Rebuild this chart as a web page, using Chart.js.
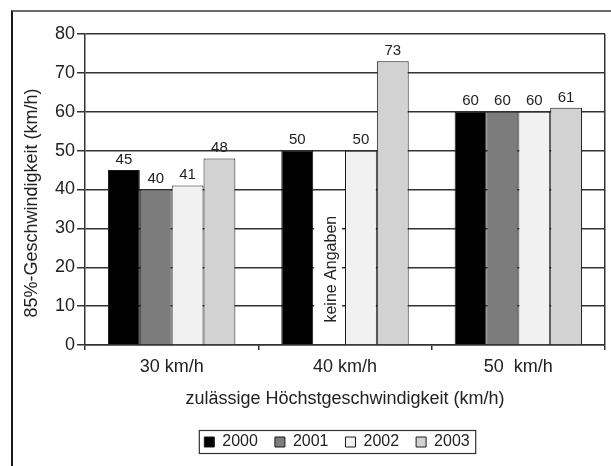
<!DOCTYPE html>
<html>
<head>
<meta charset="utf-8">
<script src="https://cdn.jsdelivr.net/npm/chart.js@4.4.1/dist/chart.umd.min.js"></script>
<style>
  html, body { margin: 0; padding: 0; background: #fff; }
  #wrap { position: relative; width: 611px; height: 466px; overflow: hidden; }
  #frame { position: absolute; left: 11px; top: 10px; width: 640px; height: 500px;
           border-left: 2px solid #1a1a1a; border-top: 2px solid #6a6a6a; }
  canvas { position: absolute; left: 0; top: 0; }
</style>
</head>
<body>
<div id="wrap">
  <div id="frame"></div>
  <canvas id="chart" width="611" height="466"></canvas>
</div>
<script>
// data
const categories = ['30 km/h', '40 km/h', '50  km/h'];
const years = ['2000', '2001', '2002', '2003'];
const values2000 = [45, 50, 60];
const values2001 = [40, null, 60];   // 40 km/h: keine Angaben
const values2002 = [41, 50, 60];
const values2003 = [48, 73, 61];
const yTickValues = [0, 10, 20, 30, 40, 50, 60, 70, 80];
const yTitle = '85%-Geschwindigkeit (km/h)';
const xTitle = 'zulässige Höchstgeschwindigkeit (km/h)';
const noteText = 'keine Angaben';

const FONT = '"Liberation Sans", Arial, sans-serif';
const INK = '#222';
const GRID = '#333';

const barColors = ['#000000', '#7c7c7c', '#f1f1f1', '#d2d2d2'];
const series = [values2000, values2001, values2002, values2003];

// white patch + "keine Angaben" in the empty 2001 slot, drawn over the grid
const noteLabel = {
  id: 'noteLabel',
  beforeDatasetsDraw(chart) {
    const el = chart.getDatasetMeta(1).data[1];
    const y = chart.scales.y;
    const ctx = chart.ctx;
    ctx.save();
    ctx.fillStyle = '#fff';
    const top = y.getPixelForValue(34), bot = y.getPixelForValue(1.5);
    ctx.fillRect(el.x - el.width / 2 + 1, top, el.width - 4, bot - top);
    ctx.translate(el.x + 3, y.getPixelForValue(19.5));
    ctx.rotate(-Math.PI / 2);
    ctx.font = '16px ' + FONT;
    ctx.fillStyle = INK;
    ctx.textAlign = 'center';
    ctx.textBaseline = 'middle';
    ctx.fillText(noteText, 0, 0);
    ctx.restore();
  }
};

// value labels above bars
const valueLabels = {
  id: 'valueLabels',
  afterDatasetsDraw(chart) {
    const ctx = chart.ctx;
    ctx.save();
    ctx.font = '15px ' + FONT;
    ctx.fillStyle = INK;
    ctx.textAlign = 'center';
    ctx.textBaseline = 'bottom';
    chart.data.datasets.forEach((ds, di) => {
      chart.getDatasetMeta(di).data.forEach((el, i) => {
        const v = ds.data[i];
        if (v === null) return;
        ctx.fillText(String(v), el.x, el.y - 3);
      });
    });
    ctx.restore();
  }
};

// y axis title, placed like the original
const yAxisTitle = {
  id: 'yAxisTitle',
  afterDraw(chart) {
    const ctx = chart.ctx;
    ctx.save();
    ctx.translate(32, 203);
    ctx.rotate(-Math.PI / 2);
    ctx.font = '18px ' + FONT;
    ctx.fillStyle = INK;
    ctx.textAlign = 'center';
    ctx.textBaseline = 'middle';
    ctx.fillText(yTitle, 0, 0);
    ctx.restore();
  }
};

// nudge the legend a bit left and put a box round it
const LEGEND_SHIFT = -8;
const legendBox = {
  id: 'legendBox',
  beforeDraw(chart) {
    const lg = chart.legend;
    if (!lg) return;
    lg.left += LEGEND_SHIFT;
    lg.right += LEGEND_SHIFT;
    lg.legendHitBoxes.forEach(h => { h.left += LEGEND_SHIFT; });
  },
  afterDraw(chart) {
    const lg = chart.legend;
    if (!lg || !lg.legendHitBoxes.length) return;
    const hb = lg.legendHitBoxes;
    const first = hb[0], last = hb[hb.length - 1];
    const x0 = first.left - 5, x1 = last.left + last.width + 6;
    const y0 = first.top - 3.5, y1 = first.top + first.height + 3.5;
    const ctx = chart.ctx;
    ctx.save();
    ctx.strokeStyle = '#333';
    ctx.lineWidth = 1.2;
    ctx.strokeRect(x0, y0, x1 - x0, y1 - y0);
    ctx.restore();
  }
};

new Chart(document.getElementById('chart'), {
  type: 'bar',
  data: {
    labels: categories,
    datasets: years.map((yr, k) => ({
      label: yr,
      data: series[k],
      backgroundColor: barColors[k],
      borderColor: '#1a1a1a',
      borderWidth: 1,
      categoryPercentage: 0.735,
      barPercentage: 1
    }))
  },
  options: {
    responsive: false,
    animation: false,
    events: [],
    layout: { padding: { left: 12, right: 6, top: 34, bottom: 6 } },
    plugins: {
      tooltip: { enabled: false },
      legend: {
        position: 'bottom',
        fullSize: false,
        labels: {
          boxWidth: 10,
          boxHeight: 10,
          padding: 17,
          color: INK,
          font: { family: FONT, size: 16 }
        }
      }
    },
    scales: {
      x: {
        afterFit: s => { s.height = 72; },
        grid: {
          offset: true,
          drawOnChartArea: true,
          color: c => c.type === 'tick' ? 'rgba(0,0,0,0)' : GRID,
          tickColor: GRID,
          tickLength: 5,
          lineWidth: 1.5
        },
        border: { display: true, color: GRID, width: 1.5 },
        ticks: {
          color: INK,
          padding: 6,
          maxRotation: 0,
          font: { family: FONT, size: 18 }
        },
        title: {
          display: true,
          text: xTitle,
          color: INK,
          padding: { top: 0, bottom: 7 },
          font: { family: FONT, size: 18 }
        }
      },
      y: {
        min: 0,
        max: 80,
        afterFit: s => { s.width = 73; },
        afterBuildTicks: s => { s.ticks = yTickValues.map(v => ({ value: v })); },
        grid: { color: GRID, lineWidth: 1.5, tickLength: 8 },
        border: { display: true, color: GRID, width: 1.5 },
        ticks: {
          color: INK,
          padding: 2,
          font: { family: FONT, size: 18 }
        }
      }
    }
  },
  plugins: [noteLabel, valueLabels, yAxisTitle, legendBox]
});
</script>
</body>
</html>
